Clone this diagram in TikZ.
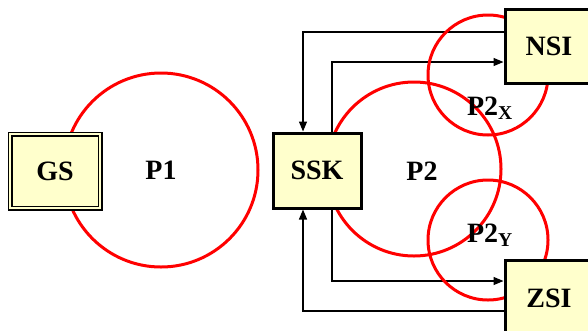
\documentclass[tikz,border=0pt]{standalone}
\usepackage{fontspec}
\setmainfont{Liberation Serif}
\usetikzlibrary{arrows.meta,positioning,calc,backgrounds}
\definecolor{boxyellow}{RGB}{255,255,204}
\definecolor{ringred}{RGB}{255,0,0}

\begin{document}
\begin{tikzpicture}[x=1pt, y=-1pt,
    unit/.style={draw, line width=3pt, fill=boxyellow, inner sep=0pt,
        minimum width=88pt, minimum height=75pt,
        font=\fontsize{28}{32}\selectfont\bfseries},
    ring/.style={ringred, line width=3pt},
    lbl/.style={font=\fontsize{28}{32}\selectfont\bfseries},
    link/.style={line width=1.3pt, -{Triangle[length=10pt,width=8pt]}}]
    \useasboundingbox (0,0) rectangle (588,330);

    % units
    \node[unit, line width=1.5pt, double=boxyellow, double distance=2pt,
        minimum width=90pt, minimum height=74pt] (gs) at (55,171) {GS};
    \node[unit] (ssk) at (317,170.5) {SSK};
    \node[unit, minimum height=74pt] (nsi) at (549,46) {NSI};
    \node[unit, minimum height=76pt] (zsi) at (549,298) {ZSI};

    \begin{pgfonlayer}{background}
    % links between SSK and the two servers
    \draw[link] ([yshift=14pt]nsi.west) -| ([xshift=-14pt]ssk.north);
    \draw[link] ([xshift=15pt]ssk.north) |- ([yshift=-16pt]nsi.west);
    \draw[link] ([xshift=15pt]ssk.south) |- ([yshift=17pt]zsi.west);
    \draw[link] ([yshift=-13pt]zsi.west) -| ([xshift=-14pt]ssk.south);

    % protocol rings
    \draw[ring] (161,170) circle[radius=97pt];
    \draw[ring] (414,169) circle[radius=87pt];
    \draw[ring] (488,75) circle[radius=60pt];
    \draw[ring] (488,240) circle[radius=60pt];
    \end{pgfonlayer}

    % ring labels
    \node[lbl] (p1) at (161,170) {P1};
    \node[lbl] (p2) at (422,171) {P2};
    \node[lbl] (p2x) at (490,108) {P2\textsubscript{X}};
    \node[lbl] (p2y) at (490,235) {P2\textsubscript{Y}};
\end{tikzpicture}
\end{document}
